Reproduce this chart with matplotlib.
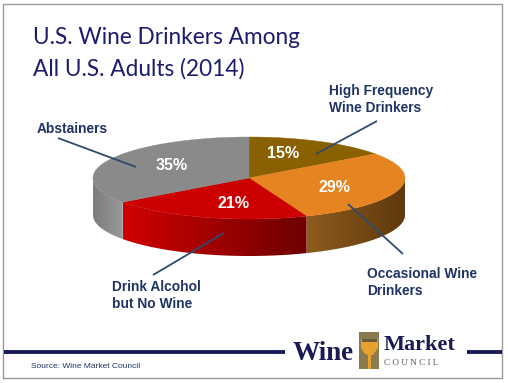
"""U.S. wine drinkers among all U.S. adults: tilted 3D-style pie slide."""
import matplotlib
matplotlib.use("Agg")
import matplotlib.pyplot as plt
import matplotlib.patches as mpatches
from matplotlib.colors import to_rgb
import numpy as np

# ---------- data ----------
categories = ["High Frequency\nWine Drinkers", "Occasional Wine\nDrinkers",
              "Drink Alcohol\nbut No Wine", "Abstainers"]
shares = [15, 29, 21, 35]
top_colors = ["#8a6100", "#e58420", "#cc0000", "#8a8a8a"]
# side wall gradient, left to right
side_colors = [("#8a6100", "#8a6100"), ("#8e5c1e", "#5e390c"),
               ("#d00000", "#6e0000"), ("#7c7c7c", "#9a9a9a")]
label_xy = [(329, 99.5), (367, 282.5), (112, 295.5), (37, 129)]
pct_xy = [(283, 153), (334, 188), (234, 204), (171.5, 166)]
leaders = [((377, 121), (316, 154)), ((403, 254), (348, 204)),
           ((153, 275), (224, 233)), ((58, 138), (136, 167))]

NAVY = "#1f3464"
CX, CY, A, B, DEPTH = 249, 178, 156, 41, 37


def ell(t):
    # t is degrees clockwise from the top of the ellipse
    r = np.radians(t)
    return CX + A * np.sin(r), CY - B * np.cos(r)


fig = plt.figure(figsize=(5.08, 3.83), dpi=100, facecolor="white")
ax = fig.add_axes([0, 0, 1, 1])

# frame around the slide
ax.plot([3, 3, 502, 502, 3], [378, 4, 4, 378, 378], color="#9a9a9a", lw=1.0)

# ---------- pie ----------
edges = np.concatenate([[0], np.cumsum(shares)]) * 3.6

# side walls first, only the front half of the rim shows
for i in range(len(shares)):
    lo, hi = max(edges[i], 90), min(edges[i + 1], 270)
    if hi <= lo:
        continue
    x, y = ell(np.linspace(lo, hi, 200))
    pts = np.column_stack([np.r_[x, x[::-1]], np.r_[y, y[::-1] + DEPTH]])
    wall = mpatches.Polygon(pts, closed=True, fc="none", ec="none")
    ax.add_patch(wall)
    c1, c2 = np.array(to_rgb(side_colors[i][0])), np.array(to_rgb(side_colors[i][1]))
    grad = np.linspace(0, 1, 256)[None, :, None] * (c2 - c1) + c1
    im = ax.imshow(grad, extent=[x.min(), x.max(), y.max() + DEPTH, y.min()],
                   aspect="auto", interpolation="bilinear")
    im.set_clip_path(wall)

# top face
for i in range(len(shares)):
    ts = np.linspace(edges[i], edges[i + 1], 120)
    x, y = ell(ts)
    pts = np.column_stack([np.r_[CX, x], np.r_[CY, y]])
    ax.add_patch(mpatches.Polygon(pts, closed=True, fc=top_colors[i],
                                  ec=top_colors[i], lw=0.3))

# percent labels and leaders
for i, s in enumerate(shares):
    ax.text(pct_xy[i][0], pct_xy[i][1], f"{s}%", color="white", fontsize=11.5,
            fontweight="bold", family="Liberation Sans", ha="center", va="center")
    (xa, ya), (xb, yb) = leaders[i]
    ax.plot([xa, xb], [ya, yb], color="#2f4a6e", lw=1.3, solid_capstyle="butt")
    ax.text(label_xy[i][0], label_xy[i][1], categories[i], color=NAVY, fontsize=9.9,
            fontweight="bold", family="Liberation Sans", ha="left",
            va="center", linespacing=1.2)

# ---------- title ----------
ax.text(33, 38, "U.S. Wine Drinkers Among", color="#1c1c6e", fontsize=16.3,
        family="Lato", ha="left", va="center")
ax.text(33, 69, "All U.S. Adults (2014)", color="#1c1c6e", fontsize=16.3,
        family="Lato", ha="left", va="center")

# ---------- footer ----------
ax.plot([4, 285], [352, 352], color="#1a1a55", lw=2.8, solid_capstyle="butt")
ax.plot([467, 502], [352, 352], color="#1a1a55", lw=2.8, solid_capstyle="butt")
ax.text(31, 367, "Source: Wine Market Council", color=NAVY, fontsize=6,
        family="Liberation Sans", ha="left", va="center")

# logo
ax.text(293, 353, "Wine", color="#1a1a55", fontsize=19.5, fontweight="bold",
        family="Liberation Serif", ha="left", va="center")
ax.add_patch(mpatches.Rectangle((359, 332), 20, 37, fc="#8a7a50", ec="none"))
ax.add_patch(mpatches.Polygon(
    [(361, 339), (378, 339), (378, 348), (373, 355), (371, 355), (371, 369),
     (368, 369), (368, 355), (365, 354), (361, 348)],
    closed=True, fc="#e8a030", ec="none"))
ax.add_patch(mpatches.Rectangle((362, 339), 15, 3, fc="#6a5a38", ec="none"))
ax.text(384, 345, "Market", color="#1a1a55", fontsize=16, fontweight="bold",
        family="Liberation Serif", ha="left", va="center")
ax.text(384, 363, "C O U N C I L", color="#555555", fontsize=6.6,
        family="Liberation Serif", ha="left", va="center")

ax.set_xlim(0, 508)
ax.set_ylim(383, 0)
ax.axis("off")

fig.savefig("out.png", dpi=100, facecolor="white")
